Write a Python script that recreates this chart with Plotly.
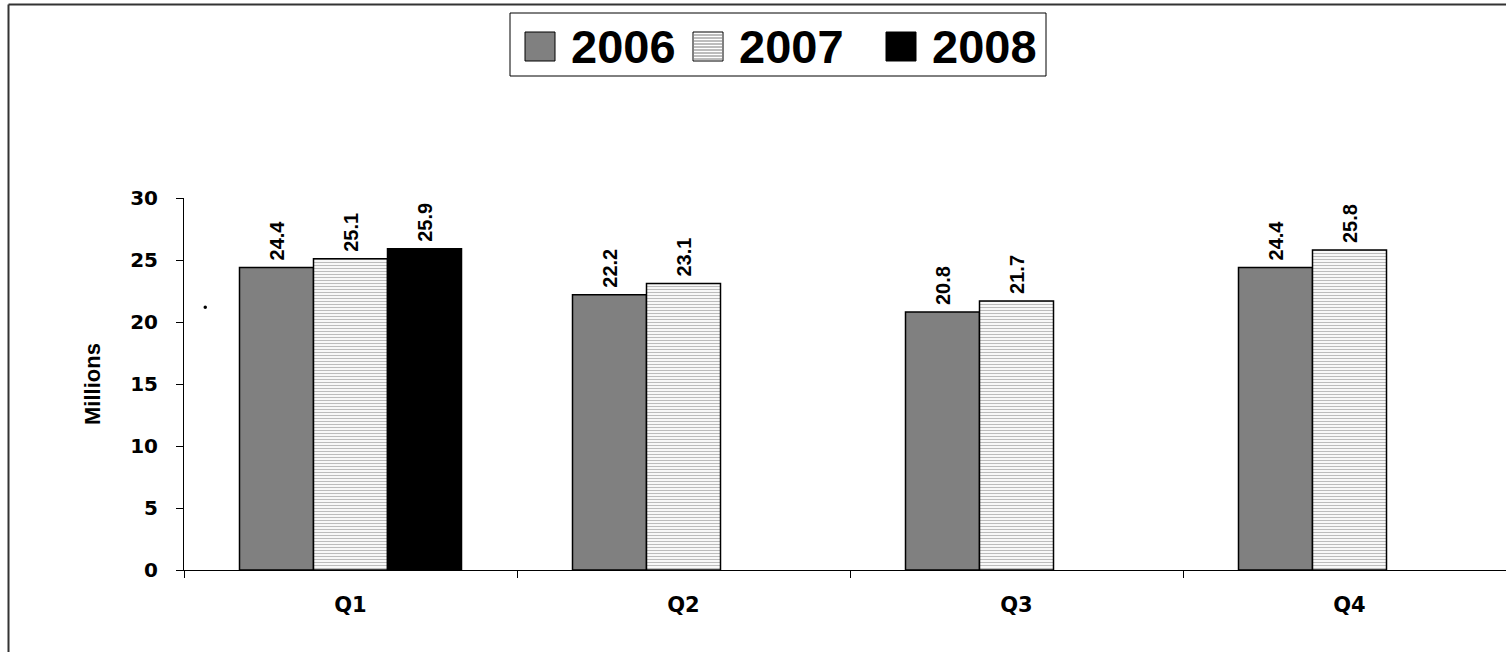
import plotly.graph_objects as go

quarters = ["Q1", "Q2", "Q3", "Q4"]
years = ["2006", "2007", "2008"]
sales_2006 = [24.4, 22.2, 20.8, 24.4]
sales_2007 = [25.1, 23.1, 21.7, 25.8]
sales_2008 = [25.9, None, None, None]
y_ticks = [0, 5, 10, 15, 20, 25, 30]

W, H = 1506, 652
L, R, T, B = 184, 0, 198, 82
FONT = "Liberation Sans, Arial, sans-serif"
TICK_FONT = "DejaVu Sans, Liberation Sans, sans-serif"
THIN = "\u2009"

# pixel -> paper helpers for the decorations outside the plot area
def px(x):
    return (x - L) / (W - L - R)

def py(y):
    return (H - B - y) / (H - T - B)

styles = {
    "2006": dict(color="#808080"),
    "2007": dict(color="white", pattern=dict(shape="-", fgcolor="#7a7a7a", bgcolor="white", size=3, solidity=0.4)),
    "2008": dict(color="black"),
}

fig = go.Figure()
for yr, vals in zip(years, [sales_2006, sales_2007, sales_2008]):
    fig.add_trace(go.Bar(
        name=yr, x=quarters, y=vals,
        marker=dict(**styles[yr], line=dict(color="black", width=1.5)),
        text=[THIN + f"{v:.1f}" if v is not None else "" for v in vals],
        textposition="outside", textangle=-90,
        textfont=dict(family=FONT, size=20, color="black", weight="bold"),
        cliponaxis=False, showlegend=False,
    ))

fig.update_layout(
    width=W, height=H,
    margin=dict(l=L, r=R, t=T, b=B),
    paper_bgcolor="white", plot_bgcolor="white",
    barmode="group", bargap=1/3, bargroupgap=0,
    font=dict(family=FONT, color="black"),
    xaxis=dict(
        range=[-0.5, -0.5 + (W - L - R) / 333.0],
        tickson="boundaries", ticks="outside", ticklen=7, tickcolor="black",
        ticklabelstandoff=16,
        showline=True, linecolor="black", linewidth=1,
        showgrid=False, zeroline=False,
        tickfont=dict(family=TICK_FONT, size=21, color="black", weight="bold"),
    ),
    yaxis=dict(
        range=[0, 30], tickvals=y_ticks,
        ticks="outside", ticklen=7, tickcolor="black",
        ticklabelstandoff=14,
        showline=True, linecolor="black", linewidth=1,
        showgrid=False, zeroline=False,
        tickfont=dict(family=TICK_FONT, size=20, color="black", weight="bold"),
        title=dict(text="Millions", standoff=23,
                   font=dict(family=FONT, size=22, color="black", weight="bold")),
    ),
)

shapes = []
# outer frame (top and left edges)
shapes.append(dict(type="line", xref="paper", yref="paper", x0=px(8.5), x1=px(W + 5), y0=py(4.5), y1=py(4.5),
                   line=dict(color="#333333", width=2)))
shapes.append(dict(type="line", xref="paper", yref="paper", x0=px(8.5), x1=px(8.5), y0=py(4.5), y1=py(H + 5),
                   line=dict(color="#333333", width=2)))
# legend box
shapes.append(dict(type="rect", xref="paper", yref="paper", x0=px(510), x1=px(1046), y0=py(13), y1=py(76),
                   line=dict(color="black", width=1), fillcolor="white"))
# stray dot
shapes.append(dict(type="circle", xref="paper", yref="paper", x0=px(203.5), x1=px(207), y0=py(305.5), y1=py(309),
                   line=dict(width=0), fillcolor="black"))

# legend swatches and labels
icon_x = {"2006": 525, "2007": 693, "2008": 886}
text_x = {"2006": 569, "2007": 737, "2008": 930}
icon_top, icon_bot = 32, 61
for yr in years:
    x0 = icon_x[yr]
    fill = {"2006": "#808080", "2007": "white", "2008": "black"}[yr]
    shapes.append(dict(type="rect", xref="paper", yref="paper", x0=px(x0), x1=px(x0 + 30),
                       y0=py(icon_top), y1=py(icon_bot), line=dict(color="black", width=1), fillcolor=fill))
    if yr == "2007":
        yy = icon_top + 3
        while yy < icon_bot - 1:
            shapes.append(dict(type="line", xref="paper", yref="paper", x0=px(x0 + 1), x1=px(x0 + 29),
                               y0=py(yy), y1=py(yy), line=dict(color="#7a7a7a", width=1)))
            yy += 3
    fig.add_annotation(xref="paper", yref="paper", x=px(text_x[yr]), y=py(46.5),
                       xanchor="left", yanchor="middle", text=yr, showarrow=False,
                       font=dict(family=FONT, size=47, color="black", weight="bold"))

fig.update_layout(shapes=shapes)
fig.write_html("out.html")
